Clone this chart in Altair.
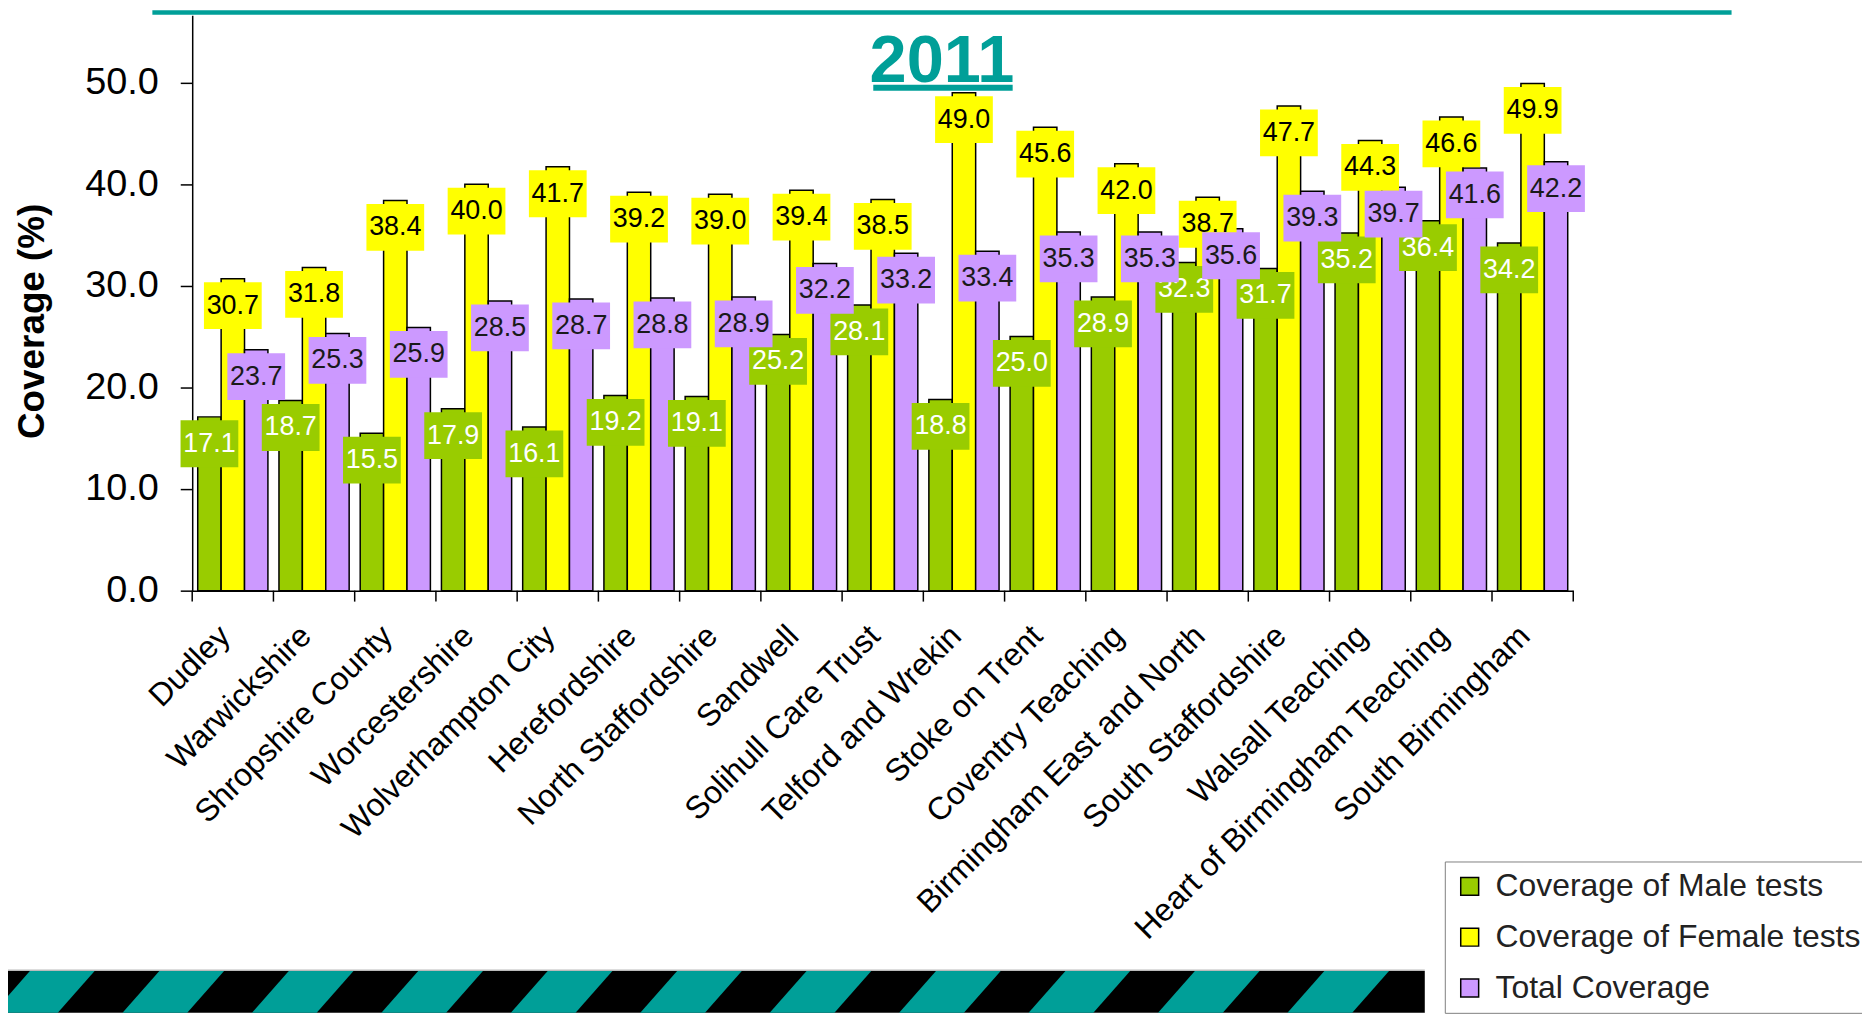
import altair as alt
import pandas as pd

categories = ["Dudley", "Warwickshire", "Shropshire County", "Worcestershire",
              "Wolverhampton City", "Herefordshire", "North Staffordshire", "Sandwell",
              "Solihull Care Trust", "Telford and Wrekin", "Stoke on Trent",
              "Coventry Teaching", "Birmingham East and North", "South Staffordshire",
              "Walsall Teaching", "Heart of Birmingham Teaching", "South Birmingham"]
male = [17.1, 18.7, 15.5, 17.9, 16.1, 19.2, 19.1, 25.2, 28.1, 18.8, 25.0, 28.9, 32.3, 31.7, 35.2, 36.4, 34.2]
female = [30.7, 31.8, 38.4, 40.0, 41.7, 39.2, 39.0, 39.4, 38.5, 49.0, 45.6, 42.0, 38.7, 47.7, 44.3, 46.6, 49.9]
total = [23.7, 25.3, 25.9, 28.5, 28.7, 28.8, 28.9, 32.2, 33.2, 33.4, 35.3, 35.3, 35.6, 39.3, 39.7, 41.6, 42.2]
series_names = ["Coverage of Male tests", "Coverage of Female tests", "Total Coverage"]
series_colors = ["#99CC00", "#FFFF00", "#CC99FF"]
label_text_colors = ["#FFFFFF", "#000000", "#1A1A1A"]
y_ticks = [0, 10, 20, 30, 40, 50]
title_text = "2011"

rows = []
for s, vals in zip(series_names, [male, female, total]):
    for c, v in zip(categories, vals):
        rows.append({"cat": c, "series": s, "value": v})
df = pd.DataFrame(rows)

W, H = 1387, 578
YMAX = 56.63
TEAL = "#009F98"
BASE = "Liberation Sans, Arial, sans-serif"

one = pd.DataFrame({"d": [0]})

yscale = alt.Scale(domain=[0, YMAX], nice=False, zero=True)
xscale = alt.Scale(domain=categories, paddingInner=0, paddingOuter=0)
xoff = alt.XOffset("series:N", sort=series_names,
                   scale=alt.Scale(domain=series_names, paddingOuter=0.236, paddingInner=0))

x_axis = alt.Axis(title=None, labelAngle=315, labelAlign="right", labelBaseline="middle",
                  labelFontSize=32, labelFont=BASE, labelColor="black", ticks=False,
                  domainColor="black", domainWidth=1.5, labelPadding=40, labelLimit=800,
                  labelOffset=-8)
y_axis = alt.Axis(values=y_ticks, format=".1f", labelFontSize=38, labelFont=BASE,
                  labelColor="black", tickSize=12, tickColor="black", tickWidth=1.5,
                  domainColor="black", domainWidth=1.5, labelPadding=22, grid=False,
                  title="Coverage (%)", titleFontSize=37, titleFont=BASE,
                  titleFontWeight="bold", titleColor="black", titleX=-160, titleY=307,
                  titleAngle=270, titleAlign="center", titleBaseline="middle")

legend = alt.Legend(title=None, orient="none", legendX=1258, legendY=850,
                    direction="vertical", symbolType="square", symbolSize=324,
                    symbolStrokeColor="black", symbolStrokeWidth=1.5,
                    labelFontSize=32, labelFont=BASE, labelColor="#222222",
                    labelLimit=800, labelOffset=10, rowPadding=19, padding=9,
                    strokeColor="#808080", fillColor="white")

# --- decorative bottom band with diagonal stripes
band_top, band_bot = 960, 1002
stripes = []
for k in range(-1, 11):
    bl = -200 + 130 * k
    stripes.append({"k": k, "py": band_bot, "x1": bl, "x2": bl + 65})
    stripes.append({"k": k, "py": band_top, "x1": bl + 37, "x2": bl + 102})
stripe_df = pd.DataFrame(stripes)

band = alt.Chart(one).mark_rect(color="black").encode(
    x=alt.value(-185), x2=alt.value(1238), y=alt.value(band_top), y2=alt.value(band_bot))
band_line = alt.Chart(one).mark_rect(color="#BBBBBB").encode(
    x=alt.value(-185), x2=alt.value(1238), y=alt.value(band_top - 1.5), y2=alt.value(band_top))
stripe_layer = alt.Chart(stripe_df).mark_area(color=TEAL, orient="horizontal", opacity=1).encode(
    y=alt.Y("py:Q", scale=None),
    x=alt.X("x1:Q", scale=None),
    x2="x2:Q",
    detail="k:N")
cover = alt.Chart(one).mark_rect(color="white").encode(
    x=alt.value(1238), x2=alt.value(1420), y=alt.value(band_top - 3), y2=alt.value(band_bot))

# --- title
title_line = alt.Chart(one).mark_rect(color=TEAL).encode(
    x=alt.value(-40), x2=alt.value(1546), y=alt.value(-5), y2=alt.value(-0.3))
title_txt = alt.Chart(one).mark_text(text=title_text, fontSize=67, fontWeight="bold", font=BASE,
                                     color=TEAL, align="center", baseline="alphabetic").encode(
    x=alt.value(753), y=alt.value(67))
title_ul = alt.Chart(one).mark_rect(color=TEAL).encode(
    x=alt.value(684), x2=alt.value(824), y=alt.value(70), y2=alt.value(76))

# --- bars
bars = alt.Chart(df).mark_bar(stroke="black", strokeWidth=1.5).encode(
    x=alt.X("cat:N", sort=categories, scale=xscale, axis=x_axis),
    xOffset=xoff,
    y=alt.Y("value:Q", scale=yscale, axis=y_axis),
    color=alt.Color("series:N", sort=series_names,
                    scale=alt.Scale(domain=series_names, range=series_colors), legend=legend))

ticks = alt.Chart(pd.DataFrame({"cat": categories})).mark_rule(color="black", strokeWidth=1.5).encode(
    x=alt.X("cat:N", sort=categories, scale=xscale, bandPosition=0, axis=x_axis),
    y=alt.value(H), y2=alt.value(H + 11))
last_tick = alt.Chart(one).mark_rule(color="black", strokeWidth=1.5).encode(
    x=alt.value(W), y=alt.value(H), y2=alt.value(H + 11))

# --- value label boxes
box_path = "M-1,0.121L1,0.121L1,1.741L-1,1.741Z"
label_layers = []
for s, col, tcol in zip(series_names, series_colors, label_text_colors):
    sub = alt.Chart(df).transform_filter(alt.datum.series == s)
    enc = dict(
        x=alt.X("cat:N", sort=categories, scale=xscale, axis=x_axis),
        xOffset=xoff,
        y=alt.Y("value:Q", scale=yscale, axis=y_axis),
    )
    box = sub.mark_point(shape=box_path, size=3364, filled=True, opacity=1,
                         strokeWidth=0, color=col).encode(**enc)
    txt = sub.mark_text(dy=27, fontSize=27, font=BASE, color=tcol,
                        align="center", baseline="middle").encode(
        text=alt.Text("value:Q", format=".1f"), **enc)
    label_layers += [box, txt]

chart = alt.layer(
    bars, band, band_line, stripe_layer, cover,
    ticks, last_tick, *label_layers,
    title_line, title_txt, title_ul
).properties(
    width=W, height=H,
    padding={"left": 185, "top": 5, "right": 290, "bottom": 424},
    autosize=alt.AutoSizeParams(type="none"),
).configure(font=BASE).configure_view(stroke=None)

chart.save("out.html", embed_options={"renderer": "svg", "actions": False})
